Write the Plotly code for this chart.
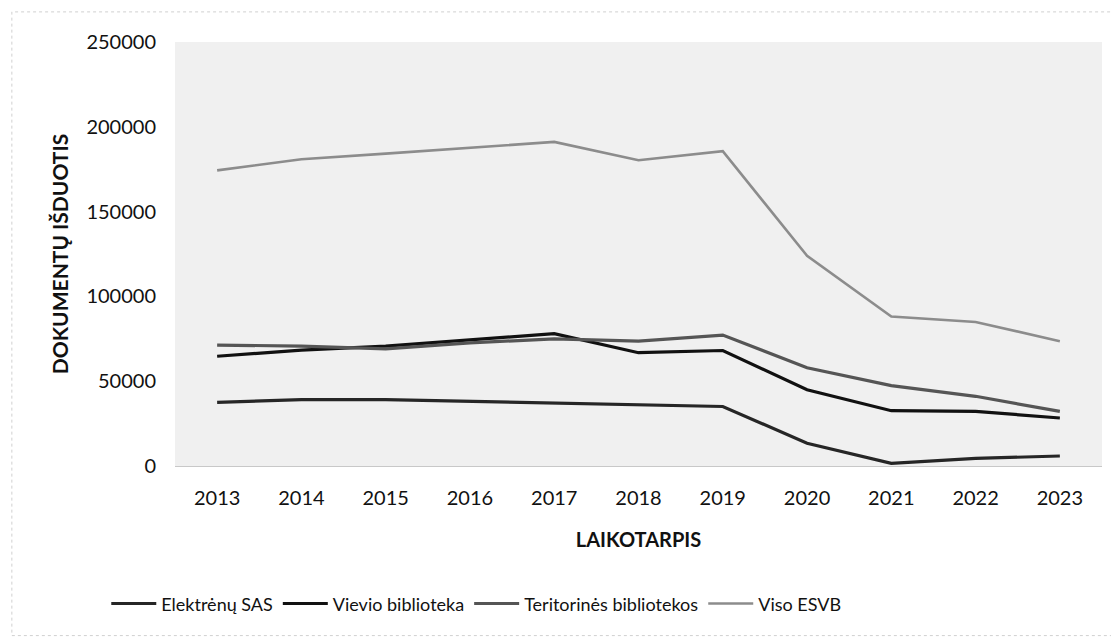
import plotly.graph_objects as go

years = ["2013", "2014", "2015", "2016", "2017", "2018", "2019", "2020", "2021", "2022", "2023"]
elektrenu_sas = [37500, 39100, 39100, 38100, 36700, 35900, 35100, 13400, 1600, 4500, 5900]
vievio_biblioteka = [64700, 68300, 70700, 74200, 78000, 66800, 68100, 45000, 32600, 32200, 28300]
teritorines_bibliotekos = [71300, 70700, 69100, 72600, 75000, 73600, 77200, 57900, 47400, 41100, 32200]
viso_esvb = [174300, 180900, 184200, 187600, 191100, 180300, 185600, 124000, 88100, 84900, 73600]

series = [
    ("Elektrėnų SAS", elektrenu_sas, "#262626", 3.2),
    ("Vievio biblioteka", vievio_biblioteka, "#111111", 3.2),
    ("Teritorinės bibliotekos", teritorines_bibliotekos, "#555555", 3.2),
    ("Viso ESVB", viso_esvb, "#8c8c8c", 2.6),
]

font_family = "Lato, 'Open Sans', sans-serif"

fig = go.Figure()
for name, vals, color, w in series:
    fig.add_trace(go.Scatter(
        x=years, y=vals, name=name, mode="lines",
        line=dict(color=color, width=w),
    ))

fig.update_layout(
    width=1119, height=639,
    margin=dict(l=167, r=25, t=34, b=181),
    paper_bgcolor="white",
    plot_bgcolor="#f0f0f0",
    font=dict(family=font_family, size=20, color="#111111"),
    showlegend=True,
    legend=dict(
        orientation="h", x=0.325, xanchor="center", y=-0.325, yanchor="middle",
        font=dict(size=18, color="#111111"),
        itemwidth=45, tracegroupgap=0,
    ),
    xaxis=dict(
        type="category",
        range=[-0.5, 10.5],
        showgrid=False, zeroline=False,
        showline=True, linecolor="#c8c8c8", linewidth=1,
        ticks="", tickfont=dict(size=20),
        ticklabelstandoff=14,
        title=dict(text="<b>LAIKOTARPIS</b>", font=dict(size=20), standoff=24),
    ),
    yaxis=dict(
        range=[0, 250000], dtick=50000, tickformat="d",
        showgrid=False, zeroline=False, showline=False,
        ticks="", tickfont=dict(size=20),
        ticklabelstandoff=18,
        title=dict(text="<b>DOKUMENTŲ IŠDUOTIS</b>", font=dict(size=21), standoff=12),
    ),
)

fig.add_shape(type="rect", xref="paper", yref="paper", x0=-0.176, x1=1.012, y0=-0.40, y1=1.071,
              line=dict(color="#d0d0d0", width=1, dash="dot"), layer="below")

fig.write_html("out.html")
